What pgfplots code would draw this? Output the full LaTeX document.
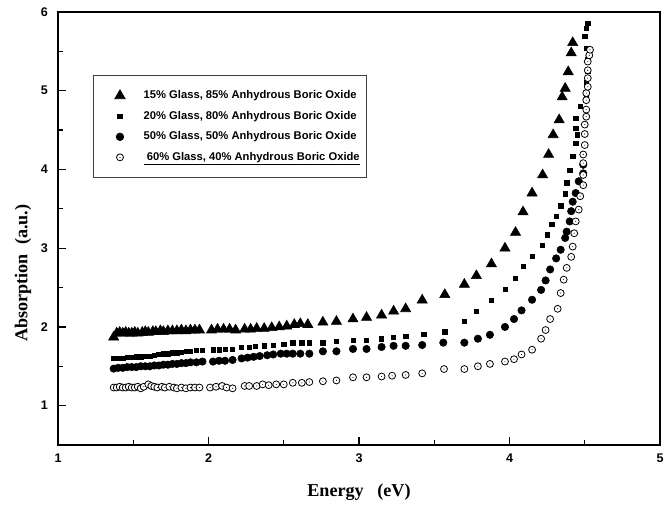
\documentclass[border=0pt]{standalone}
\usepackage{fontspec}
\setmainfont{Liberation Serif}
\newfontfamily\arial{Liberation Sans}
\usepackage{pgfplots}
\pgfplotsset{compat=1.18}

% open circle with a small dot in the middle
\pgfdeclareplotmark{odot}{%
  \pgfpathcircle{\pgfpointorigin}{\pgfplotmarksize}%
  \pgfsetfillcolor{white}\pgfusepathqfillstroke
  \pgfpathcircle{\pgfpointorigin}{0.4pt}%
  \pgfsetfillcolor{black}\pgfusepathqfill}

\begin{document}
\begin{tikzpicture}
\begin{axis}[
  name=ax,
  scale only axis, width=451.5pt, height=324.75pt,
  xmin=1, xmax=5, ymin=0.5, ymax=6,
  xtick={1,2,3,4,5}, ytick={1,2,3,4,5,6},
  minor x tick num=1, minor y tick num=1,
  tick align=inside, xtick pos=bottom, ytick pos=left,
  major tick length=6pt, minor tick length=3.5pt,
  axis line style={line width=1.1pt},
  tick style={line width=0.9pt, black},
  /pgf/number format/assume math mode=true,
  tick label style={font=\arial\bfseries\fontsize{9.4}{11}\selectfont},
  yticklabel style={xshift=-4pt},
  xticklabel style={yshift=-3pt},
  label style={font=\bfseries\fontsize{13.6}{15}\selectfont},
  xlabel={Energy\ \ \ (eV)},
  ylabel={Absorption\ \ (a.u.)},
  x label style={at={(axis description cs:0.5,-0.11)}, anchor=center},
  y label style={at={(axis description cs:-0.058,0.397)}, anchor=center},
  legend style={at={(0.058,0.8545)}, anchor=north west,
    draw=black!75, line width=0.6pt,
    font=\arial\bfseries\fontsize{8.4}{10}\selectfont,
    row sep=3.8pt, column sep=12pt, inner xsep=3pt, inner ysep=9.5pt},
  legend cell align=left,
  legend image code/.code={%
    \path[draw=none, fill=none] (-17pt,0pt) -- (0pt,0pt);
    \draw[#1] plot coordinates {(0pt,0pt)};},
]
\addplot[only marks, mark=triangle*, mark size=4.4pt, black] coordinates {
(1.37,1.87) (1.39,1.92) (1.41,1.93) (1.43,1.92) (1.45,1.93) (1.47,1.92)
(1.49,1.92) (1.51,1.93) (1.53,1.92) (1.56,1.93) (1.58,1.94) (1.60,1.93)
(1.63,1.94) (1.65,1.94) (1.68,1.95) (1.70,1.94) (1.73,1.95) (1.76,1.95)
(1.79,1.95) (1.82,1.96) (1.85,1.95) (1.88,1.96) (1.91,1.96) (1.94,1.96)
(2.02,1.96) (2.06,1.97) (2.10,1.97) (2.14,1.97) (2.18,1.96) (2.24,1.97)
(2.28,1.97) (2.32,1.98) (2.37,1.98) (2.42,1.99) (2.47,2.00) (2.52,2.01)
(2.57,2.03) (2.61,2.04) (2.66,2.03) (2.76,2.06) (2.85,2.07) (2.96,2.10)
(3.05,2.12) (3.15,2.15) (3.23,2.20) (3.31,2.23) (3.42,2.34) (3.57,2.41)
(3.70,2.54) (3.78,2.65) (3.88,2.80) (3.97,3.00) (4.04,3.20) (4.09,3.46)
(4.15,3.70) (4.22,3.93) (4.26,4.19) (4.29,4.44) (4.33,4.63) (4.35,4.92)
(4.37,5.03) (4.39,5.24) (4.41,5.48) (4.42,5.61)
};
\addlegendentry{15\% Glass, 85\% Anhydrous Boric Oxide}

\addplot[only marks, mark=square*, mark size=1.6pt, black] coordinates {
(1.37,1.60) (1.40,1.60) (1.43,1.60) (1.46,1.61) (1.49,1.61) (1.52,1.62)
(1.55,1.62) (1.58,1.63) (1.61,1.63) (1.64,1.64) (1.67,1.65) (1.70,1.66)
(1.73,1.66) (1.76,1.67) (1.79,1.67) (1.82,1.68) (1.85,1.69) (1.88,1.69)
(1.92,1.70) (1.96,1.70) (2.03,1.71) (2.07,1.71) (2.11,1.72) (2.16,1.72)
(2.22,1.74) (2.27,1.74) (2.31,1.75) (2.37,1.76) (2.43,1.77) (2.50,1.78)
(2.56,1.80) (2.62,1.80) (2.67,1.80) (2.76,1.80) (2.85,1.82) (2.96,1.83)
(3.05,1.83) (3.15,1.85) (3.23,1.87) (3.31,1.88) (3.43,1.91) (3.57,1.94)
(3.70,2.07) (3.78,2.20) (3.88,2.34) (3.97,2.48) (4.04,2.62) (4.09,2.77)
(4.15,2.90) (4.22,3.04) (4.25,3.17) (4.28,3.30) (4.31,3.41) (4.34,3.54)
(4.37,3.69) (4.38,3.83) (4.40,3.99) (4.42,4.17) (4.44,4.33) (4.45,4.44)
(4.44,4.52) (4.44,4.65) (4.47,4.80) (4.51,4.95) (4.51,5.10) (4.52,5.25)
(4.52,5.40) (4.51,5.54) (4.50,5.69) (4.51,5.79) (4.52,5.86)
};
\addlegendentry{20\% Glass, 80\% Anhydrous Boric Oxide}

\addplot[only marks, mark=*, mark size=2.8pt, black] coordinates {
(1.37,1.47) (1.40,1.48) (1.43,1.48) (1.46,1.49) (1.49,1.49) (1.52,1.49)
(1.55,1.50) (1.58,1.50) (1.61,1.50) (1.64,1.51) (1.67,1.51) (1.70,1.52)
(1.73,1.52) (1.76,1.53) (1.79,1.53) (1.82,1.54) (1.85,1.54) (1.88,1.55)
(1.92,1.55) (1.96,1.56) (2.03,1.56) (2.07,1.57) (2.11,1.57) (2.16,1.58)
(2.22,1.60) (2.26,1.61) (2.30,1.62) (2.34,1.63) (2.39,1.64) (2.43,1.65)
(2.48,1.66) (2.52,1.66) (2.56,1.66) (2.61,1.66) (2.67,1.66) (2.76,1.69)
(2.85,1.69) (2.96,1.72) (3.05,1.72) (3.15,1.745) (3.23,1.76) (3.31,1.76)
(3.42,1.77) (3.56,1.80) (3.70,1.80) (3.79,1.85) (3.87,1.90) (3.97,2.00)
(4.03,2.10) (4.08,2.21) (4.15,2.345) (4.21,2.47) (4.24,2.59) (4.27,2.73)
(4.31,2.87) (4.34,2.98) (4.37,3.13) (4.38,3.21) (4.40,3.34) (4.41,3.47)
(4.42,3.59) (4.44,3.70) (4.46,3.85) (4.49,3.95) (4.49,4.06)
};
\addlegendentry{50\% Glass, 50\% Anhydrous Boric Oxide}

\addplot[only marks, mark=odot, mark size=2.6pt, black, line width=0.6pt] coordinates {
(1.37,1.23) (1.39,1.23) (1.41,1.24) (1.43,1.23) (1.45,1.23) (1.47,1.24)
(1.49,1.23) (1.51,1.23) (1.53,1.24) (1.55,1.22) (1.57,1.24) (1.60,1.27)
(1.62,1.25) (1.64,1.24) (1.66,1.23) (1.69,1.24) (1.71,1.23) (1.74,1.24)
(1.77,1.23) (1.79,1.22) (1.82,1.23) (1.85,1.22) (1.88,1.23) (1.91,1.23)
(1.94,1.23) (2.01,1.23) (2.05,1.24) (2.09,1.25) (2.12,1.23) (2.16,1.22)
(2.24,1.25) (2.27,1.25) (2.32,1.25) (2.36,1.27) (2.40,1.26) (2.45,1.27)
(2.50,1.27) (2.56,1.29) (2.62,1.29) (2.67,1.30) (2.76,1.31) (2.85,1.32)
(2.96,1.36) (3.05,1.36) (3.15,1.37) (3.22,1.38) (3.31,1.39) (3.42,1.41)
(3.565,1.465) (3.70,1.465) (3.79,1.50) (3.87,1.53) (3.97,1.56) (4.03,1.59)
(4.08,1.65) (4.15,1.71) (4.21,1.85) (4.24,1.96) (4.27,2.10) (4.32,2.23)
(4.34,2.43) (4.36,2.60) (4.38,2.75) (4.41,2.89) (4.42,3.02) (4.43,3.19)
(4.44,3.34) (4.46,3.49) (4.47,3.66) (4.49,3.80) (4.49,3.93) (4.49,4.08)
(4.49,4.19) (4.50,4.31) (4.50,4.45) (4.50,4.57) (4.51,4.67) (4.51,4.76)
(4.51,4.88) (4.51,4.97) (4.52,5.05) (4.52,5.16) (4.52,5.26) (4.52,5.37)
(4.53,5.45) (4.535,5.52)
};
\addlegendentry{\underline{\ 60\% Glass, 40\% Anhydrous Boric Oxide}}
\end{axis}
\pgfresetboundingbox
\path[use as bounding box] ([shift={(-43.5pt,-44.25pt)}]ax.south west)
  rectangle ([shift={(7.5pt,9pt)}]ax.north east);
\end{tikzpicture}
\end{document}
